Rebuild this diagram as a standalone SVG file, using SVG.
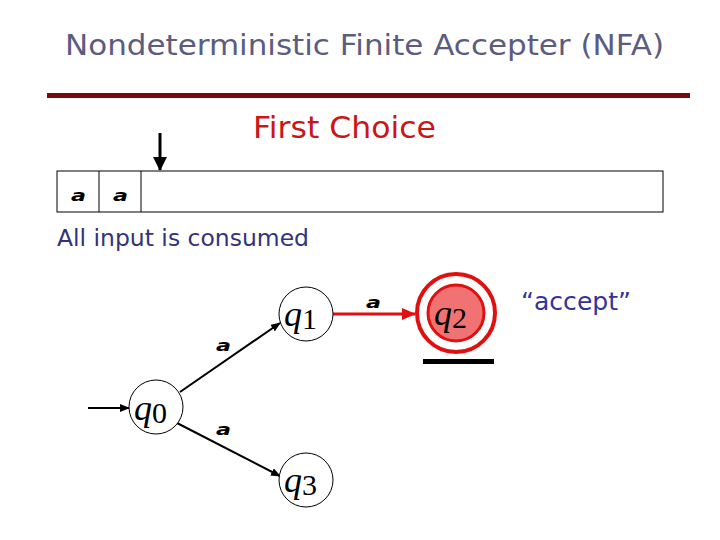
<svg xmlns="http://www.w3.org/2000/svg" width="720" height="540" viewBox="0 0 720 540">
<defs>
<marker id="ah" markerWidth="10" markerHeight="8" refX="9" refY="4" orient="auto" markerUnits="userSpaceOnUse"><path d="M0,0 L10,4 L0,8 Z" fill="#000"/></marker>
<marker id="ahr" markerWidth="14" markerHeight="12" refX="13" refY="6" orient="auto" markerUnits="userSpaceOnUse"><path d="M0,0 L14,6 L0,12 Z" fill="#e01010"/></marker>
<marker id="ahd" markerWidth="14" markerHeight="14" refX="13" refY="7" orient="auto" markerUnits="userSpaceOnUse"><path d="M0,0 L14,7 L0,14 Z" fill="#000"/></marker>
</defs>
<style>
.st{fill:#fff;stroke:#000;stroke-width:1}
.q{font-family:"Liberation Serif",serif;font-style:italic;font-size:36px;fill:#000}
.sub{font-style:normal;font-size:30px}
.lbl{font-family:"DejaVu Sans",sans-serif;font-style:oblique;font-weight:bold;font-size:15px;fill:#000}
.edge{stroke:#000;stroke-width:2;fill:none;marker-end:url(#ah)}
.sans{font-family:"DejaVu Sans","Noto Sans",sans-serif}
</style>
<text x="65" y="55" class="sans" font-size="29" fill="#5c5c80" textLength="599" lengthAdjust="spacingAndGlyphs">Nondeterministic Finite Accepter (NFA)</text>
<rect x="47" y="93" width="643" height="5" fill="#7a0a0a"/>
<text x="253" y="138" class="sans" font-size="31" fill="#cc1515" textLength="183" lengthAdjust="spacingAndGlyphs">First Choice</text>
<g id="tape">
<line x1="160" y1="133" x2="160" y2="170" stroke="#000" stroke-width="3" marker-end="url(#ahd)"/>
<rect x="57" y="171" width="606" height="41" fill="#fff" stroke="#000" stroke-width="1"/>
<line x1="99" y1="171" x2="99" y2="212" stroke="#000"/>
<line x1="141" y1="171" x2="141" y2="212" stroke="#000"/>
<text x="71" y="201" class="lbl" textLength="15" lengthAdjust="spacingAndGlyphs">a</text>
<text x="113" y="201" class="lbl" textLength="15" lengthAdjust="spacingAndGlyphs">a</text>
</g>
<text x="57" y="246" class="sans" font-size="23" fill="#33337a" textLength="252" lengthAdjust="spacingAndGlyphs">All input is consumed</text>
<g id="connectors">
<line x1="88" y1="408" x2="129" y2="408" class="edge"/>
<line x1="180" y1="392" x2="280" y2="323" class="edge"/>
<line x1="177" y1="423" x2="280" y2="476" class="edge"/>
<line x1="333" y1="314" x2="415" y2="314" stroke="#e01010" stroke-width="3" marker-end="url(#ahr)"/>
<text x="216" y="351" class="lbl" textLength="15" lengthAdjust="spacingAndGlyphs">a</text>
<text x="216" y="435" class="lbl" textLength="15" lengthAdjust="spacingAndGlyphs">a</text>
<text x="366" y="308" class="lbl" textLength="15" lengthAdjust="spacingAndGlyphs">a</text>
</g>
<g id="q0"><circle cx="156" cy="407" r="27" class="st"/><text x="134" y="420" class="q">q<tspan class="sub" dy="3">0</tspan></text></g>
<g id="q1"><circle cx="306" cy="314" r="27" class="st"/><text x="284" y="326" class="q">q<tspan class="sub" dy="3">1</tspan></text></g>
<g id="q3"><circle cx="306" cy="480" r="27" class="st"/><text x="284" y="492" class="q">q<tspan class="sub" dy="3">3</tspan></text></g>
<g id="q2">
<circle cx="456" cy="313" r="39" fill="#fff" stroke="#e01010" stroke-width="4"/>
<circle cx="456" cy="313" r="28" fill="#f07272" stroke="#e01010" stroke-width="3"/>
<text x="434" y="325" class="q">q<tspan class="sub" dy="3">2</tspan></text>
<rect x="423" y="359" width="71" height="5" fill="#000"/>
</g>
<text x="521" y="310" class="sans" font-size="24" fill="#333399" textLength="110" lengthAdjust="spacingAndGlyphs">“accept”</text>
</svg>
